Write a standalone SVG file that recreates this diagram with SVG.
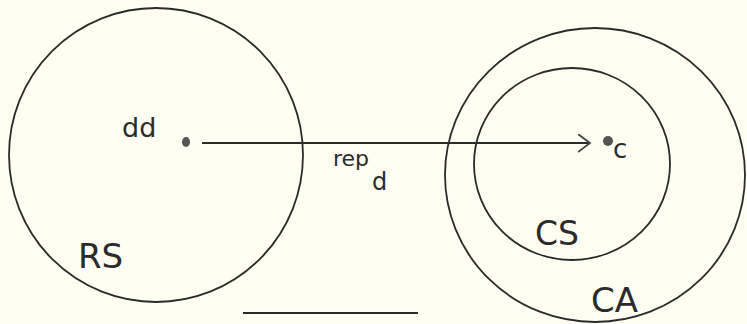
<svg xmlns="http://www.w3.org/2000/svg" width="747" height="324" viewBox="0 0 747 324">
<style>
.c{fill:none;stroke:#2b2b2b;stroke-width:1.8}
.t{font-family:"DejaVu Sans",sans-serif;fill:#2b2b2b}
.dot{fill:#555}
</style>
<defs>
<marker id="ah" markerWidth="14" markerHeight="20" refX="12" refY="9" orient="auto" markerUnits="userSpaceOnUse">
<path d="M0,0 L12,9 L0,18" fill="none" stroke="#444" stroke-width="1.8"/>
</marker>
</defs>
<rect width="747" height="324" fill="#fffef2"/>
<g id="RS">
<ellipse class="c" cx="156" cy="155" rx="147" ry="147"/>
<text class="t" x="78" y="268" font-size="34">RS</text>
</g>
<g id="CA">
<ellipse class="c" cx="595" cy="175" rx="150" ry="147"/>
<text class="t" x="591" y="312" font-size="34">CA</text>
</g>
<g id="CS">
<ellipse class="c" cx="572" cy="164" rx="98" ry="96"/>
<text class="t" x="535" y="245" font-size="33">CS</text>
</g>
<g id="dd">
<ellipse class="dot" cx="186" cy="142" rx="4" ry="5"/>
<text class="t" x="122" y="137" font-size="27">dd</text>
</g>
<g id="c">
<circle class="dot" cx="608" cy="141" r="5"/>
<text class="t" x="613" y="158" font-size="26">c</text>
</g>
<g id="connectors">
<line class="c" x1="202" y1="143" x2="590" y2="143" marker-end="url(#ah)"/>
<text class="t" x="333" y="166" font-size="22">rep<tspan x="372" y="190" font-size="24">d</tspan></text>
</g>
<line class="c" x1="243" y1="313" x2="418" y2="313"/>
</svg>
